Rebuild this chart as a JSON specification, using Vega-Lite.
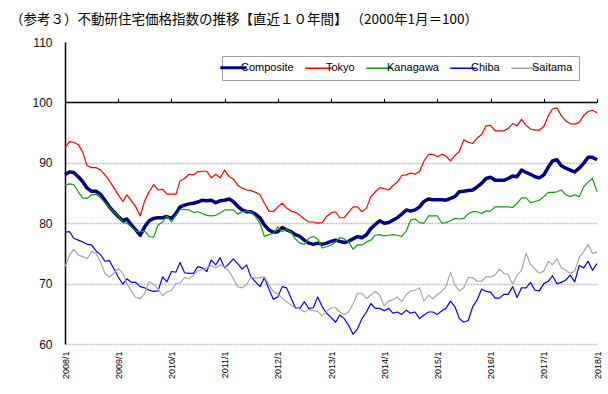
{
  "$schema": "https://vega.github.io/schema/vega-lite/v6.json",
  "width": 532,
  "height": 302,
  "autosize": "none",
  "padding": {"left": 65, "top": 42, "right": 11, "bottom": 50},
  "background": "white",
  "config": {"view": {"stroke": null}},
  "title": {
    "text": "（参考３）不動研住宅価格指数の推移【直近１０年間】 （2000年1月＝100）",
    "anchor": "start",
    "frame": "group",
    "dx": -55,
    "offset": 10,
    "fontSize": 13.5,
    "font": "Noto Sans CJK JP",
    "fontWeight": "normal",
    "color": "#000000"
  },
  "layer": [
    {
      "data": {
        "values": [
          {"d": "2008-01", "Composite": 88.0, "Tokyo": 92.5, "Kanagawa": 86.3, "Chiba": 78.5, "Saitama": 72.8},
          {"d": "2008-02", "Composite": 88.5, "Tokyo": 93.5, "Kanagawa": 86.5, "Chiba": 78.6, "Saitama": 74.7},
          {"d": "2008-03", "Composite": 88.4, "Tokyo": 93.4, "Kanagawa": 86.4, "Chiba": 77.5, "Saitama": 75.7},
          {"d": "2008-04", "Composite": 87.7, "Tokyo": 93.0, "Kanagawa": 85.2, "Chiba": 77.2, "Saitama": 74.7},
          {"d": "2008-05", "Composite": 86.9, "Tokyo": 91.8, "Kanagawa": 84.2, "Chiba": 76.9, "Saitama": 74.5},
          {"d": "2008-06", "Composite": 85.8, "Tokyo": 89.5, "Kanagawa": 84.1, "Chiba": 76.5, "Saitama": 74.1},
          {"d": "2008-07", "Composite": 85.3, "Tokyo": 89.2, "Kanagawa": 84.7, "Chiba": 76.4, "Saitama": 75.3},
          {"d": "2008-08", "Composite": 85.3, "Tokyo": 89.2, "Kanagawa": 84.8, "Chiba": 75.4, "Saitama": 75.0},
          {"d": "2008-09", "Composite": 84.8, "Tokyo": 88.8, "Kanagawa": 84.2, "Chiba": 74.8, "Saitama": 73.6},
          {"d": "2008-10", "Composite": 83.8, "Tokyo": 88.0, "Kanagawa": 83.4, "Chiba": 73.7, "Saitama": 71.7},
          {"d": "2008-11", "Composite": 82.7, "Tokyo": 87.0, "Kanagawa": 82.6, "Chiba": 73.8, "Saitama": 71.1},
          {"d": "2008-12", "Composite": 81.9, "Tokyo": 85.9, "Kanagawa": 81.9, "Chiba": 72.5, "Saitama": 71.7},
          {"d": "2009-01", "Composite": 81.1, "Tokyo": 84.7, "Kanagawa": 81.2, "Chiba": 71.1, "Saitama": 72.5},
          {"d": "2009-02", "Composite": 80.4, "Tokyo": 83.6, "Kanagawa": 80.1, "Chiba": 69.9, "Saitama": 71.7},
          {"d": "2009-03", "Composite": 80.7, "Tokyo": 84.7, "Kanagawa": 80.0, "Chiba": 70.8, "Saitama": 70.0},
          {"d": "2009-04", "Composite": 79.7, "Tokyo": 83.7, "Kanagawa": 79.4, "Chiba": 70.2, "Saitama": 68.7},
          {"d": "2009-05", "Composite": 78.9, "Tokyo": 82.7, "Kanagawa": 78.7, "Chiba": 70.2, "Saitama": 67.7},
          {"d": "2009-06", "Composite": 78.0, "Tokyo": 81.2, "Kanagawa": 78.6, "Chiba": 69.5, "Saitama": 67.5},
          {"d": "2009-07", "Composite": 79.4, "Tokyo": 83.7, "Kanagawa": 78.7, "Chiba": 69.3, "Saitama": 68.4},
          {"d": "2009-08", "Composite": 80.4, "Tokyo": 85.2, "Kanagawa": 77.8, "Chiba": 68.9, "Saitama": 70.3},
          {"d": "2009-09", "Composite": 80.8, "Tokyo": 86.4, "Kanagawa": 77.7, "Chiba": 68.7, "Saitama": 69.9},
          {"d": "2009-10", "Composite": 80.9, "Tokyo": 85.5, "Kanagawa": 79.7, "Chiba": 68.8, "Saitama": 69.1},
          {"d": "2009-11", "Composite": 80.9, "Tokyo": 85.6, "Kanagawa": 80.2, "Chiba": 71.1, "Saitama": 68.0},
          {"d": "2009-12", "Composite": 81.1, "Tokyo": 84.8, "Kanagawa": 81.2, "Chiba": 70.3, "Saitama": 68.6},
          {"d": "2010-01", "Composite": 80.8, "Tokyo": 84.8, "Kanagawa": 80.2, "Chiba": 72.0, "Saitama": 68.9},
          {"d": "2010-02", "Composite": 81.6, "Tokyo": 84.8, "Kanagawa": 81.3, "Chiba": 71.9, "Saitama": 70.0},
          {"d": "2010-03", "Composite": 82.7, "Tokyo": 87.0, "Kanagawa": 82.3, "Chiba": 73.5, "Saitama": 70.1},
          {"d": "2010-04", "Composite": 83.0, "Tokyo": 87.4, "Kanagawa": 82.3, "Chiba": 71.8, "Saitama": 71.0},
          {"d": "2010-05", "Composite": 83.2, "Tokyo": 88.1, "Kanagawa": 82.2, "Chiba": 71.7, "Saitama": 70.8},
          {"d": "2010-06", "Composite": 83.3, "Tokyo": 88.0, "Kanagawa": 81.8, "Chiba": 71.7, "Saitama": 71.4},
          {"d": "2010-07", "Composite": 83.5, "Tokyo": 88.5, "Kanagawa": 81.9, "Chiba": 72.8, "Saitama": 72.1},
          {"d": "2010-08", "Composite": 83.8, "Tokyo": 88.6, "Kanagawa": 81.6, "Chiba": 72.6, "Saitama": 72.3},
          {"d": "2010-09", "Composite": 83.7, "Tokyo": 88.6, "Kanagawa": 81.3, "Chiba": 72.0, "Saitama": 72.6},
          {"d": "2010-10", "Composite": 83.8, "Tokyo": 87.5, "Kanagawa": 81.2, "Chiba": 73.9, "Saitama": 73.0},
          {"d": "2010-11", "Composite": 83.4, "Tokyo": 88.1, "Kanagawa": 81.3, "Chiba": 73.1, "Saitama": 72.6},
          {"d": "2010-12", "Composite": 83.7, "Tokyo": 87.5, "Kanagawa": 81.7, "Chiba": 74.3, "Saitama": 73.1},
          {"d": "2011-01", "Composite": 83.8, "Tokyo": 88.8, "Kanagawa": 82.2, "Chiba": 72.6, "Saitama": 72.8},
          {"d": "2011-02", "Composite": 84.0, "Tokyo": 87.7, "Kanagawa": 82.2, "Chiba": 73.3, "Saitama": 72.0},
          {"d": "2011-03", "Composite": 83.6, "Tokyo": 87.3, "Kanagawa": 82.2, "Chiba": 74.1, "Saitama": 70.9},
          {"d": "2011-04", "Composite": 82.8, "Tokyo": 86.3, "Kanagawa": 81.5, "Chiba": 73.3, "Saitama": 69.5},
          {"d": "2011-05", "Composite": 82.2, "Tokyo": 85.8, "Kanagawa": 81.9, "Chiba": 72.4, "Saitama": 69.3},
          {"d": "2011-06", "Composite": 81.9, "Tokyo": 85.5, "Kanagawa": 82.0, "Chiba": 73.1, "Saitama": 69.8},
          {"d": "2011-07", "Composite": 81.9, "Tokyo": 85.4, "Kanagawa": 81.9, "Chiba": 71.1, "Saitama": 71.1},
          {"d": "2011-08", "Composite": 81.5, "Tokyo": 85.1, "Kanagawa": 81.1, "Chiba": 70.3, "Saitama": 70.9},
          {"d": "2011-09", "Composite": 80.9, "Tokyo": 84.7, "Kanagawa": 80.0, "Chiba": 69.5, "Saitama": 71.0},
          {"d": "2011-10", "Composite": 79.7, "Tokyo": 83.3, "Kanagawa": 77.8, "Chiba": 71.0, "Saitama": 71.1},
          {"d": "2011-11", "Composite": 78.9, "Tokyo": 82.0, "Kanagawa": 78.1, "Chiba": 69.1, "Saitama": 69.8},
          {"d": "2011-12", "Composite": 78.5, "Tokyo": 81.9, "Kanagawa": 78.3, "Chiba": 67.4, "Saitama": 68.7},
          {"d": "2012-01", "Composite": 78.6, "Tokyo": 82.7, "Kanagawa": 79.4, "Chiba": 67.8, "Saitama": 68.3},
          {"d": "2012-02", "Composite": 79.3, "Tokyo": 83.3, "Kanagawa": 78.6, "Chiba": 69.5, "Saitama": 67.6},
          {"d": "2012-03", "Composite": 78.9, "Tokyo": 82.5, "Kanagawa": 79.0, "Chiba": 69.3, "Saitama": 67.0},
          {"d": "2012-04", "Composite": 78.6, "Tokyo": 82.0, "Kanagawa": 78.5, "Chiba": 67.6, "Saitama": 66.5},
          {"d": "2012-05", "Composite": 78.1, "Tokyo": 81.8, "Kanagawa": 77.4, "Chiba": 66.0, "Saitama": 65.9},
          {"d": "2012-06", "Composite": 77.8, "Tokyo": 81.3, "Kanagawa": 76.7, "Chiba": 65.9, "Saitama": 65.8},
          {"d": "2012-07", "Composite": 77.2, "Tokyo": 80.7, "Kanagawa": 76.5, "Chiba": 67.0, "Saitama": 65.3},
          {"d": "2012-08", "Composite": 76.7, "Tokyo": 80.2, "Kanagawa": 77.5, "Chiba": 65.9, "Saitama": 65.7},
          {"d": "2012-09", "Composite": 76.5, "Tokyo": 80.2, "Kanagawa": 77.8, "Chiba": 66.0, "Saitama": 65.5},
          {"d": "2012-10", "Composite": 76.7, "Tokyo": 80.0, "Kanagawa": 77.4, "Chiba": 67.8, "Saitama": 65.4},
          {"d": "2012-11", "Composite": 76.5, "Tokyo": 80.1, "Kanagawa": 75.9, "Chiba": 66.2, "Saitama": 64.7},
          {"d": "2012-12", "Composite": 76.7, "Tokyo": 81.1, "Kanagawa": 76.1, "Chiba": 65.1, "Saitama": 65.4},
          {"d": "2013-01", "Composite": 77.0, "Tokyo": 81.7, "Kanagawa": 76.4, "Chiba": 64.4, "Saitama": 66.0},
          {"d": "2013-02", "Composite": 77.2, "Tokyo": 81.9, "Kanagawa": 76.9, "Chiba": 63.6, "Saitama": 66.0},
          {"d": "2013-03", "Composite": 77.0, "Tokyo": 80.9, "Kanagawa": 77.6, "Chiba": 64.8, "Saitama": 65.3},
          {"d": "2013-04", "Composite": 76.8, "Tokyo": 80.9, "Kanagawa": 77.4, "Chiba": 64.2, "Saitama": 64.9},
          {"d": "2013-05", "Composite": 77.0, "Tokyo": 81.8, "Kanagawa": 76.9, "Chiba": 63.1, "Saitama": 65.3},
          {"d": "2013-06", "Composite": 77.4, "Tokyo": 82.7, "Kanagawa": 75.7, "Chiba": 61.6, "Saitama": 66.6},
          {"d": "2013-07", "Composite": 77.8, "Tokyo": 82.7, "Kanagawa": 76.4, "Chiba": 62.5, "Saitama": 68.4},
          {"d": "2013-08", "Composite": 77.6, "Tokyo": 81.9, "Kanagawa": 76.4, "Chiba": 64.2, "Saitama": 68.4},
          {"d": "2013-09", "Composite": 78.1, "Tokyo": 82.5, "Kanagawa": 76.9, "Chiba": 65.3, "Saitama": 67.5},
          {"d": "2013-10", "Composite": 79.1, "Tokyo": 84.4, "Kanagawa": 77.2, "Chiba": 66.7, "Saitama": 68.1},
          {"d": "2013-11", "Composite": 79.8, "Tokyo": 85.2, "Kanagawa": 78.0, "Chiba": 65.9, "Saitama": 68.7},
          {"d": "2013-12", "Composite": 80.4, "Tokyo": 85.9, "Kanagawa": 78.1, "Chiba": 65.9, "Saitama": 68.1},
          {"d": "2014-01", "Composite": 80.0, "Tokyo": 85.7, "Kanagawa": 77.9, "Chiba": 65.5, "Saitama": 66.3},
          {"d": "2014-02", "Composite": 80.1, "Tokyo": 85.5, "Kanagawa": 78.0, "Chiba": 65.9, "Saitama": 67.1},
          {"d": "2014-03", "Composite": 80.5, "Tokyo": 86.2, "Kanagawa": 78.1, "Chiba": 65.1, "Saitama": 67.3},
          {"d": "2014-04", "Composite": 80.9, "Tokyo": 86.8, "Kanagawa": 78.0, "Chiba": 65.3, "Saitama": 67.8},
          {"d": "2014-05", "Composite": 81.5, "Tokyo": 87.9, "Kanagawa": 77.8, "Chiba": 64.9, "Saitama": 67.0},
          {"d": "2014-06", "Composite": 82.2, "Tokyo": 88.0, "Kanagawa": 78.7, "Chiba": 65.6, "Saitama": 68.2},
          {"d": "2014-07", "Composite": 82.0, "Tokyo": 88.3, "Kanagawa": 80.5, "Chiba": 65.1, "Saitama": 68.8},
          {"d": "2014-08", "Composite": 82.2, "Tokyo": 88.1, "Kanagawa": 80.7, "Chiba": 65.3, "Saitama": 68.9},
          {"d": "2014-09", "Composite": 82.7, "Tokyo": 88.6, "Kanagawa": 80.1, "Chiba": 64.2, "Saitama": 69.3},
          {"d": "2014-10", "Composite": 83.6, "Tokyo": 90.3, "Kanagawa": 80.0, "Chiba": 64.8, "Saitama": 67.1},
          {"d": "2014-11", "Composite": 84.0, "Tokyo": 91.4, "Kanagawa": 81.2, "Chiba": 65.3, "Saitama": 68.1},
          {"d": "2014-12", "Composite": 83.9, "Tokyo": 91.4, "Kanagawa": 81.2, "Chiba": 65.3, "Saitama": 67.5},
          {"d": "2015-01", "Composite": 83.9, "Tokyo": 91.0, "Kanagawa": 81.2, "Chiba": 64.9, "Saitama": 68.2},
          {"d": "2015-02", "Composite": 83.9, "Tokyo": 91.4, "Kanagawa": 80.0, "Chiba": 65.5, "Saitama": 68.7},
          {"d": "2015-03", "Composite": 83.8, "Tokyo": 91.1, "Kanagawa": 80.1, "Chiba": 65.9, "Saitama": 69.5},
          {"d": "2015-04", "Composite": 84.1, "Tokyo": 90.3, "Kanagawa": 80.4, "Chiba": 67.1, "Saitama": 71.9},
          {"d": "2015-05", "Composite": 84.4, "Tokyo": 91.2, "Kanagawa": 80.8, "Chiba": 66.2, "Saitama": 69.8},
          {"d": "2015-06", "Composite": 85.2, "Tokyo": 91.9, "Kanagawa": 80.7, "Chiba": 64.2, "Saitama": 68.8},
          {"d": "2015-07", "Composite": 85.3, "Tokyo": 93.8, "Kanagawa": 80.8, "Chiba": 63.6, "Saitama": 69.3},
          {"d": "2015-08", "Composite": 85.4, "Tokyo": 93.4, "Kanagawa": 81.6, "Chiba": 63.9, "Saitama": 71.0},
          {"d": "2015-09", "Composite": 85.5, "Tokyo": 93.2, "Kanagawa": 81.9, "Chiba": 66.2, "Saitama": 71.0},
          {"d": "2015-10", "Composite": 86.0, "Tokyo": 94.1, "Kanagawa": 81.9, "Chiba": 67.3, "Saitama": 70.4},
          {"d": "2015-11", "Composite": 86.6, "Tokyo": 94.7, "Kanagawa": 81.6, "Chiba": 69.1, "Saitama": 70.4},
          {"d": "2015-12", "Composite": 87.4, "Tokyo": 96.1, "Kanagawa": 82.0, "Chiba": 68.7, "Saitama": 71.1},
          {"d": "2016-01", "Composite": 87.6, "Tokyo": 96.2, "Kanagawa": 82.0, "Chiba": 68.6, "Saitama": 71.1},
          {"d": "2016-02", "Composite": 87.1, "Tokyo": 95.3, "Kanagawa": 82.7, "Chiba": 67.6, "Saitama": 71.4},
          {"d": "2016-03", "Composite": 87.1, "Tokyo": 95.3, "Kanagawa": 82.7, "Chiba": 67.6, "Saitama": 72.4},
          {"d": "2016-04", "Composite": 87.1, "Tokyo": 95.3, "Kanagawa": 82.7, "Chiba": 68.2, "Saitama": 71.7},
          {"d": "2016-05", "Composite": 87.4, "Tokyo": 95.7, "Kanagawa": 82.7, "Chiba": 68.2, "Saitama": 71.5},
          {"d": "2016-06", "Composite": 87.8, "Tokyo": 96.5, "Kanagawa": 82.6, "Chiba": 69.5, "Saitama": 69.9},
          {"d": "2016-07", "Composite": 87.7, "Tokyo": 96.1, "Kanagawa": 83.3, "Chiba": 67.7, "Saitama": 71.4},
          {"d": "2016-08", "Composite": 88.8, "Tokyo": 97.2, "Kanagawa": 84.2, "Chiba": 69.3, "Saitama": 72.2},
          {"d": "2016-09", "Composite": 88.4, "Tokyo": 96.2, "Kanagawa": 84.2, "Chiba": 69.3, "Saitama": 75.0},
          {"d": "2016-10", "Composite": 88.1, "Tokyo": 95.6, "Kanagawa": 83.4, "Chiba": 70.2, "Saitama": 73.2},
          {"d": "2016-11", "Composite": 87.7, "Tokyo": 95.4, "Kanagawa": 83.6, "Chiba": 68.9, "Saitama": 72.4},
          {"d": "2016-12", "Composite": 87.5, "Tokyo": 95.4, "Kanagawa": 83.8, "Chiba": 68.8, "Saitama": 71.7},
          {"d": "2017-01", "Composite": 88.0, "Tokyo": 96.0, "Kanagawa": 84.4, "Chiba": 70.0, "Saitama": 72.1},
          {"d": "2017-02", "Composite": 89.3, "Tokyo": 97.8, "Kanagawa": 85.1, "Chiba": 70.4, "Saitama": 73.7},
          {"d": "2017-03", "Composite": 90.3, "Tokyo": 98.9, "Kanagawa": 85.1, "Chiba": 71.3, "Saitama": 73.1},
          {"d": "2017-04", "Composite": 90.5, "Tokyo": 99.1, "Kanagawa": 85.2, "Chiba": 70.0, "Saitama": 74.1},
          {"d": "2017-05", "Composite": 89.5, "Tokyo": 97.8, "Kanagawa": 85.5, "Chiba": 70.2, "Saitama": 72.6},
          {"d": "2017-06", "Composite": 89.1, "Tokyo": 96.9, "Kanagawa": 84.7, "Chiba": 70.6, "Saitama": 72.2},
          {"d": "2017-07", "Composite": 88.8, "Tokyo": 96.5, "Kanagawa": 84.4, "Chiba": 71.4, "Saitama": 71.7},
          {"d": "2017-08", "Composite": 88.5, "Tokyo": 96.4, "Kanagawa": 84.7, "Chiba": 70.3, "Saitama": 72.1},
          {"d": "2017-09", "Composite": 89.1, "Tokyo": 96.7, "Kanagawa": 84.4, "Chiba": 73.0, "Saitama": 74.3},
          {"d": "2017-10", "Composite": 89.9, "Tokyo": 97.8, "Kanagawa": 86.0, "Chiba": 72.6, "Saitama": 75.3},
          {"d": "2017-11", "Composite": 90.9, "Tokyo": 98.5, "Kanagawa": 86.8, "Chiba": 73.7, "Saitama": 76.5},
          {"d": "2017-12", "Composite": 90.9, "Tokyo": 98.7, "Kanagawa": 87.4, "Chiba": 72.2, "Saitama": 75.0},
          {"d": "2018-01", "Composite": 90.5, "Tokyo": 98.3, "Kanagawa": 85.2, "Chiba": 73.3, "Saitama": 75.2}
        ]
      },
      "transform": [
        {"fold": ["Composite", "Tokyo", "Kanagawa", "Chiba", "Saitama"], "as": ["series", "value"]}
      ],
      "mark": {"type": "line", "strokeJoin": "round", "strokeCap": "butt"},
      "encoding": {
        "x": {
          "field": "d",
          "type": "temporal",
          "scale": {"type": "utc", "domain": [{"year": 2008, "month": 1, "date": 1, "utc": true}, {"year": 2018, "month": 1, "date": 1, "utc": true}]},
          "axis": {
            "orient": "bottom",
            "title": null,
            "format": "%Y/%-m",
            "values": [
              {"year": 2008, "month": 1, "date": 1, "utc": true},
              {"year": 2009, "month": 1, "date": 1, "utc": true},
              {"year": 2010, "month": 1, "date": 1, "utc": true},
              {"year": 2011, "month": 1, "date": 1, "utc": true},
              {"year": 2012, "month": 1, "date": 1, "utc": true},
              {"year": 2013, "month": 1, "date": 1, "utc": true},
              {"year": 2014, "month": 1, "date": 1, "utc": true},
              {"year": 2015, "month": 1, "date": 1, "utc": true},
              {"year": 2016, "month": 1, "date": 1, "utc": true},
              {"year": 2017, "month": 1, "date": 1, "utc": true},
              {"year": 2018, "month": 1, "date": 1, "utc": true}
            ],
            "labelAngle": -90,
            "labelAlign": "right",
            "labelBaseline": "middle",
            "ticks": false,
            "domain": false,
            "grid": false,
            "labelFont": "Liberation Sans",
            "labelFontSize": 9,
            "labelColor": "#000000",
            "labelPadding": 7,
            "labelOverlap": false,
            "labelFlush": false,
            "labelBound": false
          }
        },
        "y": {
          "field": "value",
          "type": "quantitative",
          "scale": {"domain": [60, 110], "nice": false, "zero": false},
          "axis": {
            "title": null,
            "values": [60, 70, 80, 90, 100, 110],
            "ticks": false,
            "domainColor": "#000000",
            "domainWidth": 1.5,
            "labelFont": "Liberation Sans",
            "labelFontSize": 12,
            "labelColor": "#111111",
            "labelPadding": 13,
            "grid": true,
            "gridColor": {"condition": {"test": "datum.value >= 100", "value": "transparent"}, "value": "#bdbdbd"},
            "gridWidth": 1.5,
            "gridDash": [2, 1]
          }
        },
        "color": {
          "field": "series",
          "type": "nominal",
          "scale": {
            "domain": ["Composite", "Tokyo", "Kanagawa", "Chiba", "Saitama"],
            "range": ["#000080", "#ff0000", "#139c13", "#0000ff", "#a6a6a6"]
          },
          "legend": {
            "orient": "none",
            "legendX": 157,
            "legendY": 14,
            "direction": "horizontal",
            "title": null,
            "symbolType": "stroke",
            "symbolSize": 700,
            "symbolStrokeWidth": 1.5,
            "labelFont": "Liberation Sans",
            "labelFontSize": 11,
            "labelColor": "#000000",
            "labelOffset": 2,
            "columnPadding": 8,
            "strokeColor": "#a0a0a0",
            "fillColor": "#ffffff",
            "padding": 6,
            "encode": {
              "symbols": {"update": {"strokeWidth": {"signal": "datum.value === 'Composite' ? 3 : 1.5"}}}
            }
          }
        },
        "strokeWidth": {"condition": {"test": "datum.series === 'Composite'", "value": 3.5}, "value": 1.2}
      }
    },
    {
      "data": {"values": [{"d": "2008-01", "d2": "2018-01", "level": 100}]},
      "mark": {"type": "rule", "color": "#000000", "strokeWidth": 1.5},
      "encoding": {
        "x": {
          "field": "d",
          "type": "temporal",
          "axis": {
            "orient": "top",
            "offset": -60.4,
            "title": null,
            "labels": false,
            "domain": false,
            "grid": false,
            "ticks": true,
            "tickColor": "#000000",
            "tickSize": 4,
            "tickWidth": 1,
            "values": [
              {"year": 2009, "month": 1, "date": 1, "utc": true},
              {"year": 2010, "month": 1, "date": 1, "utc": true},
              {"year": 2011, "month": 1, "date": 1, "utc": true},
              {"year": 2012, "month": 1, "date": 1, "utc": true},
              {"year": 2013, "month": 1, "date": 1, "utc": true},
              {"year": 2014, "month": 1, "date": 1, "utc": true},
              {"year": 2015, "month": 1, "date": 1, "utc": true},
              {"year": 2016, "month": 1, "date": 1, "utc": true},
              {"year": 2017, "month": 1, "date": 1, "utc": true},
              {"year": 2018, "month": 1, "date": 1, "utc": true}
            ]
          }
        },
        "x2": {"field": "d2"},
        "y": {"field": "level", "type": "quantitative"}
      }
    }
  ],
  "resolve": {"axis": {"x": "independent"}}
}
